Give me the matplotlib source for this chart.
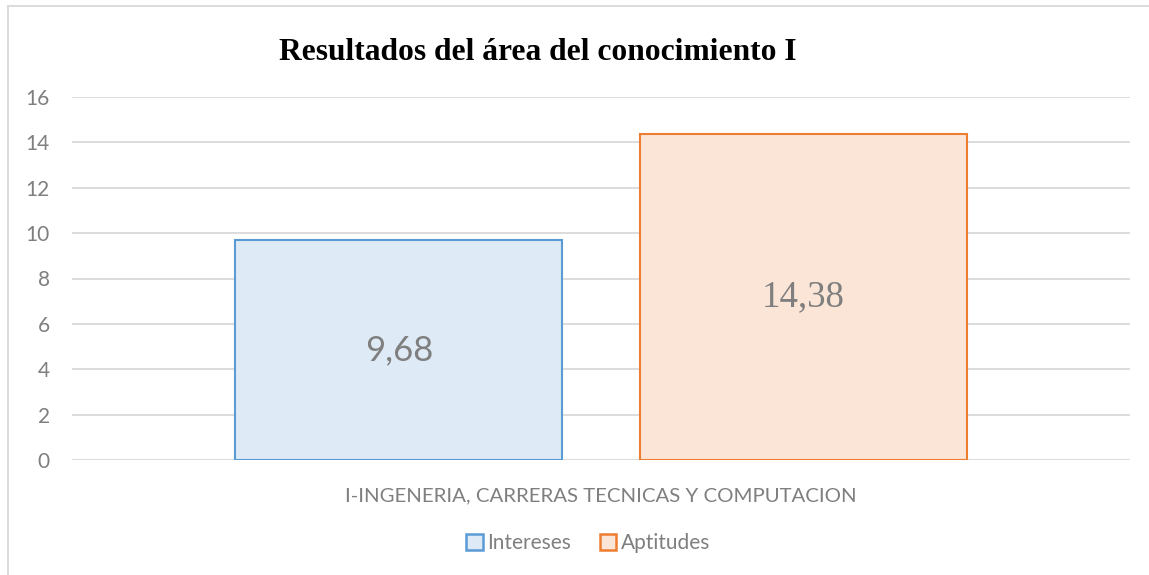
import matplotlib.pyplot as plt
from matplotlib.lines import Line2D
from matplotlib.patches import Patch
import numpy as np

# datos del grafico
categorias = ['I-INGENERIA, CARRERAS TECNICAS Y COMPUTACION']
series = ['Intereses', 'Aptitudes']
valores = [9.68, 14.38]
etiquetas = ['9,68', '14,38']
yticks = [0, 2, 4, 6, 8, 10, 12, 14, 16]

relleno = ['#DEEAF6', '#FBE5D7']
borde = ['#5B9BD5', '#ED7D31']
gris = '#7f7f7f'

fig = plt.figure(figsize=(11.49, 5.75), dpi=100)
ax = fig.add_axes([72 / 1149, 1 - 460 / 575, (1130 - 72) / 1149, (460 - 97) / 575])

x = np.arange(len(categorias))
ancho = 0.309
desp = [-0.191, 0.191]
for i in range(len(series)):
    ax.bar(x + desp[i], [valores[i]], width=ancho, color=relleno[i],
           edgecolor=borde[i], linewidth=1.5, zorder=3, label=series[i])

# etiquetas dentro de las barras
ax.text(x[0] + desp[0], valores[0] / 2, etiquetas[0], ha='center', va='center',
        fontsize=25, color=gris, family='Lato', zorder=4)
ax.text(x[0] + desp[1], valores[1] / 2, etiquetas[1], ha='center', va='center',
        fontsize=26.5, color=gris, family='Liberation Serif', zorder=4)

ax.set_xlim(-0.5, 0.5)
ax.set_ylim(0, 16)
ax.set_yticks(yticks)
ax.set_xticks(x)
ax.set_xticklabels(categorias)
ax.grid(axis='y', color='#d9d9d9', linewidth=1.3, zorder=0)
for s in ax.spines.values():
    s.set_visible(False)
ax.tick_params(axis='both', length=0, labelcolor=gris)
ax.tick_params(axis='y', pad=16, labelsize=15)
ax.tick_params(axis='x', pad=20, labelsize=14.7)
for lab in ax.get_xticklabels() + ax.get_yticklabels():
    lab.set_family('Lato')

fig.text(538 / 1149, 1 - 53 / 575, 'Resultados del área del conocimiento I',
         ha='center', va='center', fontsize=22.7, fontweight='bold',
         family='Liberation Serif', color='black')

handles = [Patch(facecolor=relleno[i], edgecolor=borde[i], linewidth=1.8) for i in range(2)]
leg = fig.legend(handles, series, loc='center', bbox_to_anchor=(588 / 1149, 1 - 543 / 575),
                 ncol=2, frameon=False, handlelength=0.8, handleheight=0.8,
                 handletextpad=0.2, columnspacing=1.4,
                 prop={'family': 'Lato', 'size': 15})
for t in leg.get_texts():
    t.set_color(gris)

# borde del area del grafico
fig.add_artist(Line2D([8 / 1149, 8 / 1149], [0, 1 - 6 / 575], color='#d9d9d9', linewidth=1.3))
fig.add_artist(Line2D([8 / 1149, 1], [1 - 6 / 575, 1 - 6 / 575], color='#d9d9d9', linewidth=1.3))

fig.savefig('out.png', dpi=100)
